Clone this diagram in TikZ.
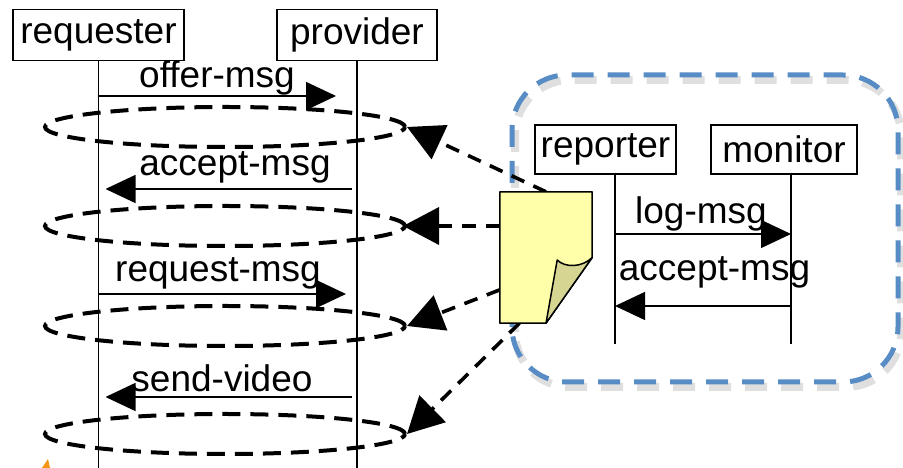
\documentclass[tikz,border=0pt]{standalone}
\usepackage{fontspec}
\setmainfont{Liberation Sans}
\usetikzlibrary{arrows.meta,shapes.geometric}

\definecolor{groupBlue}{RGB}{88,140,196}
\definecolor{noteYellow}{RGB}{255,255,170}
\definecolor{foldKhaki}{RGB}{214,214,146}
\definecolor{markOrange}{RGB}{245,150,20}

\begin{document}
\begin{tikzpicture}[
    x=1pt, y=1pt,
    font=\fontsize{37}{44}\selectfont,
    actor/.style={
        draw,
        line width=1.6pt,
        inner sep=0pt,
        minimum height=51pt
    },
    lifeline/.style={
        line width=1.6pt
    },
    message/.style={
        line width=1.4pt,
        -{Triangle[length=30pt,width=28pt]}
    },
    msglabel/.style={
        anchor=base,
        inner sep=0pt
    },
    roundtrip/.style={
        ellipse,
        draw,
        line width=4pt,
        dash pattern=on 18pt off 10pt,
        minimum width=360pt,
        minimum height=40pt,
        inner sep=0pt
    },
    report/.style={
        line width=3.6pt,
        dash pattern=on 14pt off 10pt,
        -{Triangle[length=36pt,width=37pt]}
    }
]

\useasboundingbox (0,0) rectangle (903,468);

%------------------------------------------------
% Monitoring group (dashed frame with shadow)
%------------------------------------------------
\draw[gray, opacity=0.25, line width=8pt, dash pattern=on 22pt off 14pt,
    rounded corners=55pt] (515,81) rectangle (901,388);
\draw[groupBlue, line width=5pt, dash pattern=on 22pt off 14pt,
    rounded corners=55pt] (512,86) rectangle (898,393);

%------------------------------------------------
% Actors and lifelines
%------------------------------------------------
\node[actor, minimum width=171pt] (requester) at (98.5,433) {requester};
\node[actor, minimum width=160pt] (provider) at (357,433) {provider};
\node[actor, minimum width=141pt, minimum height=49pt] (reporter) at (605.5,318.5) {reporter};
\node[actor, minimum width=146pt, minimum height=49pt] (monitor) at (784,318.5) {monitor};

\coordinate (reqend) at (requester.south |- 0,0);
\coordinate (provend) at (provider.south |- 0,0);
\coordinate (reptop) at ([xshift=9.5pt]reporter.south);
\coordinate (repend) at (reptop |- 0,124);
\coordinate (montop) at ([xshift=7pt]monitor.south);
\coordinate (monend) at (montop |- 0,124);

\draw[lifeline] (requester.south) -- (reqend);
\draw[lifeline] (provider.south) -- (provend);
\draw[lifeline] (reptop) -- (repend);
\draw[lifeline] (montop) -- (monend);

%------------------------------------------------
% Messages between requester and provider
%------------------------------------------------
\draw[message, shorten >=21pt] (requester.south |- 0,372) -- (provider.south |- 0,372);
\node[msglabel] (offerlbl) at (217,380) {offer-msg};

\draw[message, shorten <=5pt, shorten >=7pt] (provider.south |- 0,279) -- (requester.south |- 0,279);
\node[msglabel] (acceptlbl) at (235,292) {accept-msg};

\draw[message, shorten >=11pt] (requester.south |- 0,174) -- (provider.south |- 0,174);
\node[msglabel] (requestlbl) at (218,186) {request-msg};

\draw[message, shorten <=5pt, shorten >=7pt] (provider.south |- 0,71) -- (requester.south |- 0,71);
\node[msglabel] (videolbl) at (222,76) {send-video};

% round trips observed by the reporter
\node[roundtrip] (offerround) at (225,341) {};
\node[roundtrip] (acceptround) at (225,242) {};
\node[roundtrip] (requestround) at (225,142) {};
\node[roundtrip] (videoround) at (225,34) {};

%------------------------------------------------
% Messages between reporter and monitor
%------------------------------------------------
\draw[message] (reptop |- 0,234) -- (montop |- 0,234);
\node[msglabel] (loglbl) at (701,244) {log-msg};

\draw[message] (montop |- 0,162) -- (reptop |- 0,162);
\node[msglabel] (ackmonlbl) at (714.5,187) {accept-msg};

%------------------------------------------------
% Log note and its links to the round trips
%------------------------------------------------
\node[minimum width=92pt, minimum height=131pt, inner sep=0pt] (note) at (546,210.5) {};

\draw[report] (note.north) -- (offerround.east);
\draw[report, shorten >=-4pt] (note.west |- acceptround.east) -- (acceptround.east);
\draw[report] (note.215) -- (requestround.east);
\draw[report] (note.248) -- (videoround.east);

\filldraw[fill=noteYellow, line width=1.5pt, line join=round]
    (note.north west) -- (note.north east) -- (note.east)
    -- (note.south) -- (note.south west) -- cycle;
% curled corner
\filldraw[fill=foldKhaki, line width=1.5pt, line join=round]
    (note.south) -- ([xshift=-35pt,yshift=-2.5pt]note.east)
    .. controls +(8,-8) and +(-10,-10) .. (note.east) -- cycle;

% clipped mark at the lower edge
\fill[markOrange] (42,0) -- (48,9) -- (50,0) -- cycle;

\end{tikzpicture}
\end{document}
